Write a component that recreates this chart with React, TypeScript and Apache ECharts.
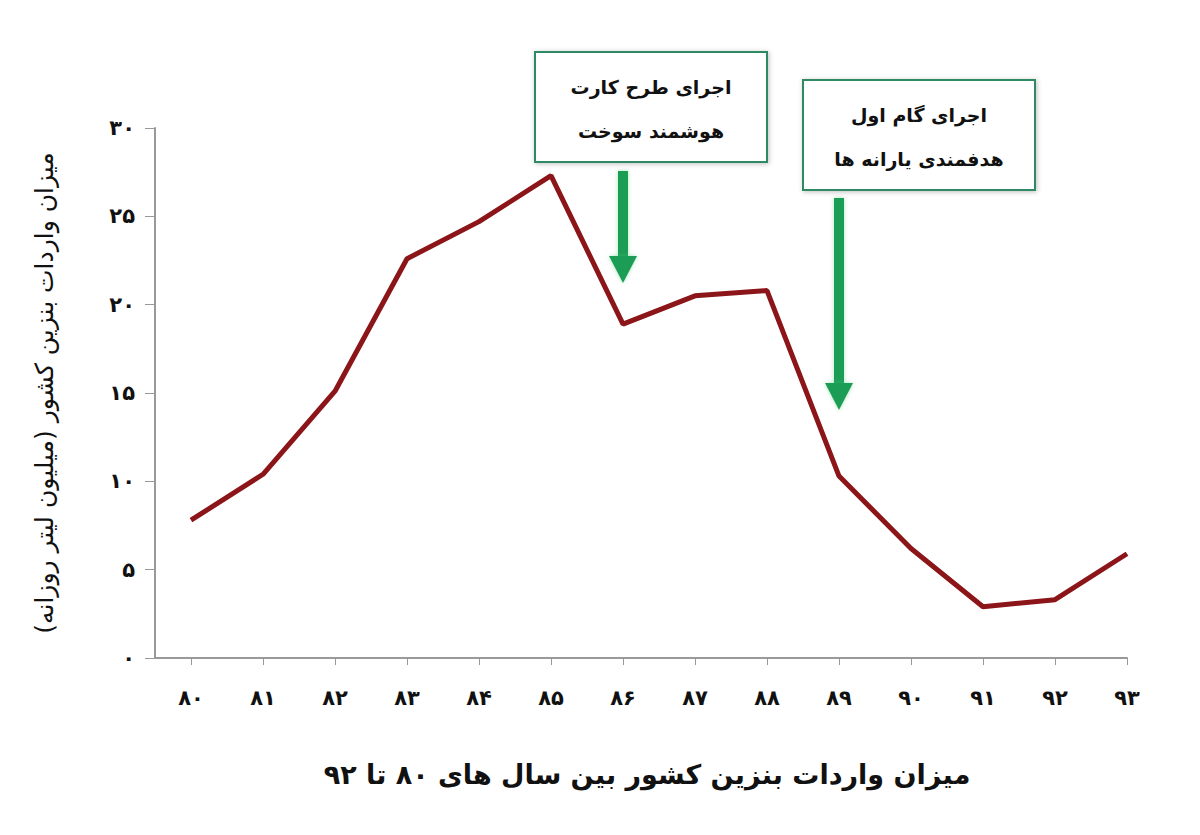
import { useEffect, useRef } from "react";
import * as echarts from "echarts";

// سال ها (محور افقی)
const years = [80, 81, 82, 83, 84, 85, 86, 87, 88, 89, 90, 91, 92, 93];
// میزان واردات بنزین (میلیون لیتر روزانه)
const imports = [7.8, 10.4, 15.1, 22.6, 24.7, 27.3, 18.9, 20.5, 20.8, 10.3, 6.2, 2.9, 3.3, 5.9];
const yTicks = [0, 5, 10, 15, 20, 25, 30];

const yAxisName = "میزان واردات بنزین کشور (میلیون لیتر روزانه)";
const chartTitle = "میزان واردات بنزین کشور بین سال های ۸۰ تا ۹۲";
const notes = [
  { year: 86, lines: ["اجرای طرح کارت", "هوشمند سوخت"] },
  { year: 89, lines: ["اجرای گام اول", "هدفمندی یارانه ها"] },
];

const FONT = "'DejaVu Sans', sans-serif";
const GREEN = "#1f9d57";
const BOX = "#2f8a62";

const fa = (n: number) =>
  String(n).replace(/\d/g, (d) => "۰۱۲۳۴۵۶۷۸۹"[Number(d)]);

function arrow(x: number, top: number, tip: number) {
  const head = 27;
  return [
    {
      type: "rect",
      shape: { x: x - 5, y: top, width: 10, height: tip - top - head + 2 },
      style: { fill: GREEN, shadowBlur: 4, shadowColor: "rgba(80,200,120,0.5)" },
    },
    {
      type: "polygon",
      shape: { points: [[x - 14, tip - head], [x + 14, tip - head], [x, tip]] },
      style: { fill: GREEN, shadowBlur: 4, shadowColor: "rgba(80,200,120,0.5)" },
    },
  ];
}

function noteBox(left: number, top: number, w: number, h: number, lines: string[]) {
  return {
    type: "group",
    children: [
      {
        type: "rect",
        shape: { x: left, y: top, width: w, height: h },
        style: {
          fill: "#fff",
          stroke: BOX,
          lineWidth: 2,
          shadowBlur: 5,
          shadowColor: "rgba(0,0,0,0.25)",
          shadowOffsetX: 1,
          shadowOffsetY: 1,
        },
      },
      ...lines.map((t, i) => ({
        type: "text",
        x: left + w / 2,
        y: top + h / 2 + (i === 0 ? -20 : 24),
        style: {
          text: t,
          fill: "#111",
          font: `bold 19px ${FONT}`,
          align: "center",
          verticalAlign: "middle",
        },
      })),
    ],
  };
}

export default function App() {
  const chartRef = useRef<HTMLDivElement>(null);

  useEffect(() => {
    const chart = echarts.init(chartRef.current, null, { renderer: "svg" });
    chart.setOption({
      animation: false,
      backgroundColor: "#fff",
      title: {
        text: chartTitle,
        left: 642,
        top: 756,
        textAlign: "center",
        textStyle: { fontFamily: FONT, fontSize: 27, fontWeight: "bold", color: "#111" },
      },
      grid: { left: 155, right: 73, top: 128, bottom: 177 },
      xAxis: {
        type: "value",
        min: 79.5,
        max: 93,
        splitLine: { show: false },
        axisLine: { lineStyle: { color: "#999", width: 2 } },
        axisTick: { customValues: years, length: 7, lineStyle: { color: "#999" } },
        axisLabel: {
          customValues: years,
          formatter: (v: number) => fa(v),
          margin: 29,
          color: "#111",
          fontFamily: FONT,
          fontSize: 21,
          fontWeight: "bold",
        },
      },
      yAxis: {
        type: "value",
        min: 0,
        max: 30,
        interval: 5,
        name: yAxisName,
        nameLocation: "middle",
        nameGap: 98,
        nameRotate: 90,
        nameTextStyle: { fontFamily: FONT, fontSize: 25, color: "#111" },
        splitLine: { show: false },
        axisLine: { show: true, lineStyle: { color: "#999", width: 2 } },
        axisTick: { show: true, length: 10, lineStyle: { color: "#999" } },
        axisLabel: {
          formatter: (v: number) => (yTicks.includes(v) ? fa(v) : ""),
          margin: 20,
          color: "#111",
          fontFamily: FONT,
          fontSize: 21,
          fontWeight: "bold",
        },
      },
      series: [
        {
          type: "line",
          data: years.map((y, i) => [y, imports[i]]),
          symbol: "none",
          lineStyle: { color: "#8b1518", width: 5 },
        },
      ],
    });

    const px = (yr: number) => chart.convertToPixel({ gridIndex: 0 }, [yr, 0])[0];
    const x1 = px(notes[0].year);
    const x2 = px(notes[1].year);
    chart.setOption({
      graphic: [
        noteBox(535, 52, 232, 110, notes[0].lines),
        noteBox(803, 80, 232, 110, notes[1].lines),
        ...arrow(x1, 171, 283),
        ...arrow(x2, 198, 410),
      ],
    });

    return () => chart.dispose();
  }, []);

  return (
    <div
      ref={chartRef}
      style={{ position: "absolute", left: 0, top: 0, width: 1200, height: 835 }}
    />
  );
}
